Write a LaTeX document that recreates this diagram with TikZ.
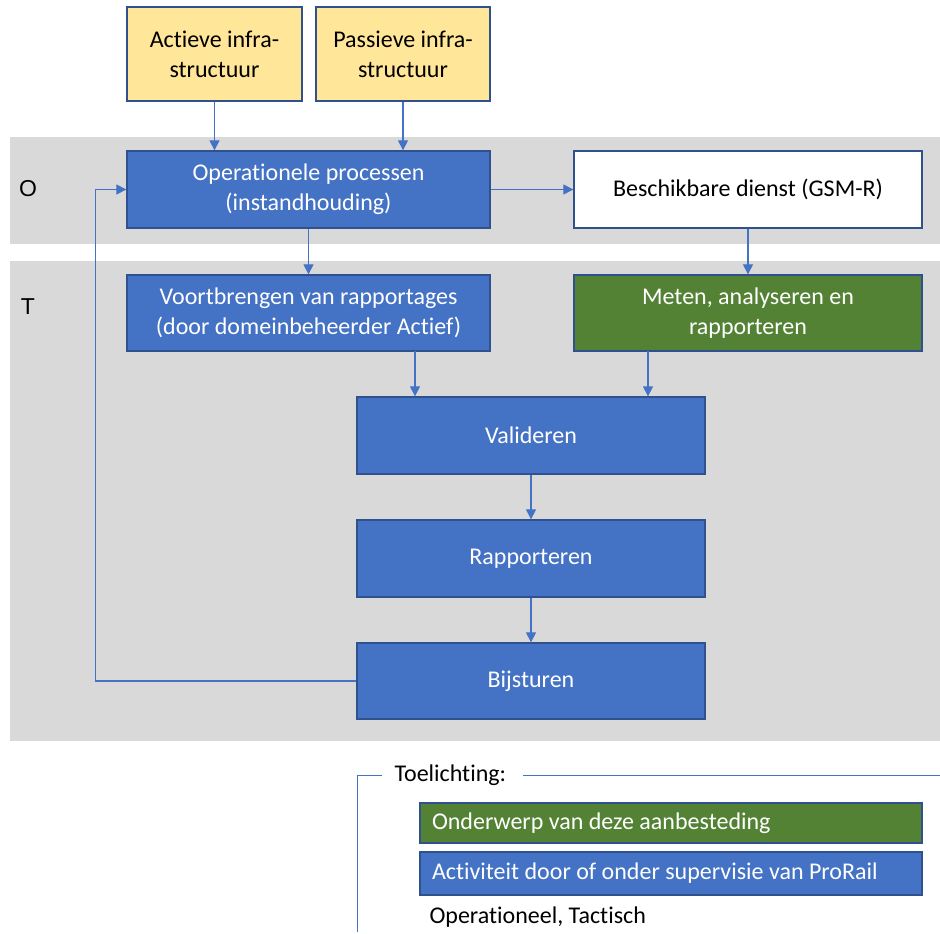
\documentclass[tikz,border=0pt]{standalone}
\usepackage{fontspec}
\setmainfont{Carlito}[Ligatures=NoCommon]
\newfontfamily\lagfont{Liberation Sans}
\usetikzlibrary{arrows.meta}
\definecolor{pblauw}{HTML}{4472C4}
\definecolor{prand}{HTML}{2F528F}
\definecolor{pgroen}{HTML}{548235}
\definecolor{pgeel}{HTML}{FFE699}
\definecolor{pgrijs}{HTML}{D9D9D9}

\begin{document}
\begin{tikzpicture}[x=1pt, y=-1pt,
every node/.style = {font=\fontsize{24}{30}\selectfont},
every edge/.style = {draw=pblauw, line width=1.2pt,
                     -{Triangle[length=10pt,width=10pt]}},
  blok/.style args = {#1/#2}{%
      rectangle, draw=prand, line width=1.3pt,
      minimum width=#1, minimum height=#2, align=flush center},
  blauw/.style = {fill=pblauw, text=white},
  groen/.style = {fill=pgroen, text=white},
  geel/.style  = {fill=pgeel},
  wit/.style   = {fill=white},
  pijl/.style  = {draw=pblauw, line width=1.2pt,
                  -{Triangle[length=10pt,width=10pt]}},
  laag/.style  = {font=\lagfont\fontsize{23}{27}\selectfont}
                    ]
\useasboundingbox (0,0) rectangle (940,934);
% lagen
\fill[pgrijs] (10,137) rectangle (940,244);
\fill[pgrijs] (10,261) rectangle (940,741);
\node(lo) [laag] at (28,189) {O};
\node(lt) [laag] at (28,307) {T};
%
\node(akt) [blok=175pt/94pt, geel] at (214.5,54)  {Actieve infra-\\structuur};
\node(pas) [blok=174pt/94pt, geel] at (403,54)    {Passieve infra-\\structuur};
\node(ops) [blok=363pt/77pt, blauw] at (308.5,189.5) {Operationele processen\\(instandhouding)};
\node(bes) [blok=348pt/77pt, wit]   at (748,189.5) {Beschikbare dienst (GSM-R)};
\node(voo) [blok=363pt/76pt, blauw] at (308.5,313) {Voortbrengen van rapportages\\(door domeinbeheerder Actief)};
\node(met) [blok=348pt/76pt, groen] at (748,313)   {Meten, analyseren en\\rapporteren};
\node(val) [blok=348pt/77pt, blauw] at (531,435.5) {Valideren};
\node(rap) [blok=348pt/77pt, blauw] at (531,558.5) {Rapporteren};
\node(bij) [blok=348pt/76pt, blauw] at (531,681)   {Bijsturen};
%
\coordinate(vu) at (415,351);
\coordinate(mu) at (648,351);
\path   (akt) edge (akt |- ops.north)
        (pas) edge (pas |- ops.north)
        (ops) edge (bes)
        (ops) edge (voo)
        (bes) edge (met)
        (vu)  edge (vu |- val.north)
        (mu)  edge (mu |- val.north)
        (val) edge (rap)
        (rap) edge (bij);
\draw[pijl] (bij.west) -- ++(-261,0) |- (ops.west);
% toelichting
\coordinate(lb) at (357,932);
\coordinate(lh) at (382,775);
\coordinate(rh) at (523,775);
\coordinate(re) at (940,775);
\draw[draw=pblauw, line width=1pt] (lb) |- (lh)
                                   (rh) -- (re);
\node(toe) [anchor=west] at (391,775) {Toelichting:};
\node(lgr) [blok=502pt/40pt, groen, text width=478pt, inner xsep=12pt, align=flush left] at (671,823) {Onderwerp van deze aanbesteding};
\node(lbl) [blok=502pt/43pt, blauw, text width=478pt, inner xsep=12pt, align=flush left] at (671,873.5) {Activiteit door of onder supervisie van ProRail};
\node(lot) [anchor=west] at (426,917) {Operationeel, Tactisch};
\end{tikzpicture}
\end{document}
